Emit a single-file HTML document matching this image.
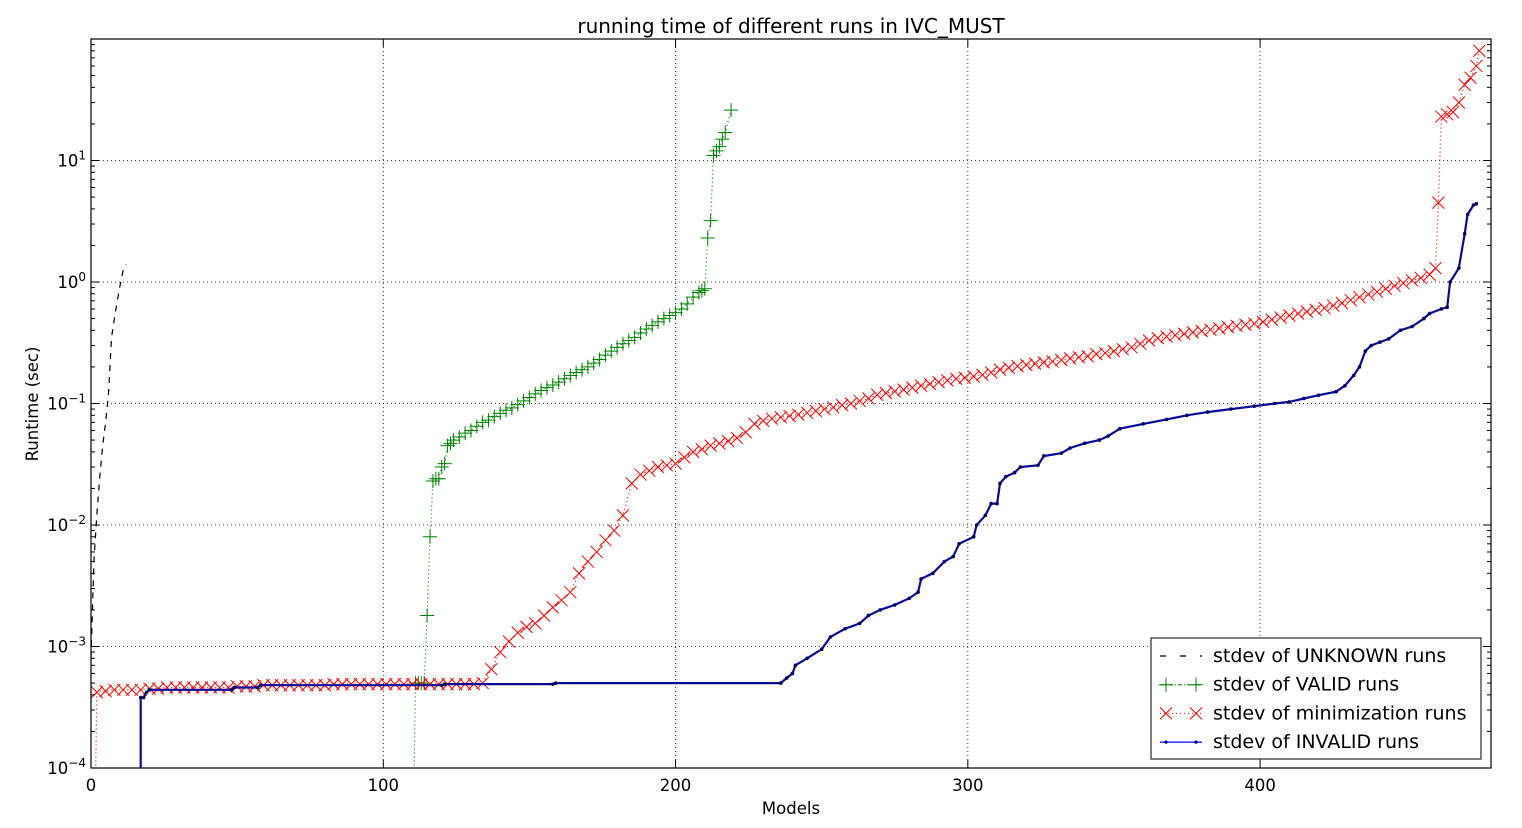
<!DOCTYPE html>
<html><head><meta charset="utf-8"><style>
html,body{margin:0;padding:0;background:#fff;width:1522px;height:828px;overflow:hidden;}
svg{display:block;font-family:"DejaVu Sans","Liberation Sans",sans-serif;}
</style></head><body>
<svg id="chart" width="1522" height="828" xmlns="http://www.w3.org/2000/svg" style="overflow:hidden">
<text x="791" y="33" text-anchor="middle" font-size="20">running time of different runs in IVC_MUST</text>
<text x="791" y="814" text-anchor="middle" font-size="16.5">Models</text>
<text transform="translate(38,404) rotate(-90)" text-anchor="middle" font-size="16.5">Runtime (sec)</text>
<g id="grid"></g>
<g id="series" clip-path="url(#clip)"></g>
<g id="axes"></g>
<defs><clipPath id="clip"><rect x="91" y="39" width="1400" height="729"/></clipPath></defs>
<g id="legend"></g>
</svg>
<script>
const xTicks=[0,100,200,300,400];
const yTickExps=[-4,-3,-2,-1,0,1];
const unknownX=[0,1,2,3,4,5,6,7,8,9,10,11,12];
const unknownY=[8e-4,5e-3,1.2e-2,2.5e-2,4.5e-2,7e-2,0.12,0.35,0.5,0.7,0.95,1.25,1.4];
const validX=[110,111,112,113,114,115,116,117,118,119,120,121,122,123,124,126,128,130,132,134,136,138,140,142,144,146,148,150,152,154,156,158,160,162,164,166,168,170,172,174,176,178,180,182,184,186,188,190,192,194,196,198,200,202,204,206,208,209,210,211,212,213,214,215,216,217,219];
const validY=[1e-5,5e-4,5e-4,5e-4,5e-4,1.8e-3,8e-3,0.023,0.024,0.024,0.03,0.032,0.045,0.047,0.05,0.053,0.057,0.06,0.065,0.07,0.073,0.078,0.083,0.088,0.092,0.098,0.105,0.112,0.12,0.128,0.135,0.142,0.15,0.16,0.17,0.18,0.19,0.2,0.215,0.23,0.25,0.27,0.29,0.31,0.33,0.35,0.38,0.41,0.44,0.47,0.5,0.53,0.56,0.6,0.66,0.75,0.82,0.85,0.88,2.3,3.2,11,12,13,15,17,26];
const minX=[1,2,5,8,11,14,17,20,23,26,29,32,35,38,41,44,47,50,53,56,59,62,65,68,71,74,77,80,83,86,89,92,95,98,101,104,107,110,113,116,119,122,125,128,131,134,137,140,143,146,149,152,155,158,161,164,167,170,173,176,179,182,185,188,191,194,197,200,203,206,209,212,215,218,221,224,227,230,233,236,239,242,245,248,251,254,257,260,263,266,269,272,275,278,281,284,287,290,293,296,299,302,305,308,311,314,317,320,323,326,329,332,335,338,341,344,347,350,353,356,359,362,365,368,371,374,377,380,383,386,389,392,395,398,401,404,407,410,413,416,419,422,425,428,431,434,437,440,443,446,449,452,455,458,460,461,462,464,466,468,470,472,474,475];
const minY=[1e-5,4.2e-4,4.3e-4,4.4e-4,4.4e-4,4.4e-4,4.4e-4,4.5e-4,4.5e-4,4.6e-4,4.6e-4,4.6e-4,4.6e-4,4.6e-4,4.6e-4,4.6e-4,4.6e-4,4.7e-4,4.7e-4,4.7e-4,4.8e-4,4.8e-4,4.8e-4,4.8e-4,4.8e-4,4.8e-4,4.8e-4,4.8e-4,4.9e-4,4.9e-4,4.9e-4,4.9e-4,4.9e-4,4.9e-4,4.9e-4,4.9e-4,4.9e-4,4.9e-4,4.9e-4,4.9e-4,4.9e-4,4.9e-4,4.9e-4,4.9e-4,4.9e-4,5e-4,6.5e-4,9e-4,1.1e-3,1.3e-3,1.45e-3,1.55e-3,1.8e-3,2.1e-3,2.4e-3,2.8e-3,4e-3,5e-3,6e-3,7.5e-3,9e-3,0.012,0.022,0.026,0.028,0.03,0.031,0.032,0.036,0.04,0.042,0.045,0.047,0.049,0.052,0.058,0.068,0.072,0.075,0.077,0.079,0.081,0.084,0.087,0.09,0.093,0.097,0.1,0.105,0.11,0.118,0.122,0.126,0.13,0.135,0.14,0.145,0.15,0.155,0.16,0.163,0.167,0.172,0.18,0.19,0.197,0.203,0.208,0.213,0.218,0.222,0.228,0.235,0.24,0.245,0.255,0.26,0.27,0.28,0.29,0.31,0.33,0.345,0.355,0.365,0.375,0.385,0.395,0.405,0.415,0.425,0.435,0.445,0.455,0.47,0.49,0.51,0.53,0.55,0.57,0.59,0.61,0.64,0.67,0.71,0.75,0.79,0.83,0.88,0.93,0.98,1.03,1.08,1.15,1.3,4.5,23,24,25,30,42,48,60,80];
const invalidX=[17,17,18,19,20,48,49,57,58,120,121,158,159,236,238,240,241,245,250,253,258,263,266,270,275,280,283,284,288,292,295,297,302,303,306,308,310,311,313,316,318,324,326,332,335,340,345,348,352,360,368,375,382,390,398,405,410,415,420,426,429,432,434,436,438,441,444,448,452,456,458,462,464,465,468,470,471,473,474];
const invalidY=[1e-5,3.8e-4,3.8e-4,4.2e-4,4.4e-4,4.4e-4,4.6e-4,4.6e-4,4.8e-4,4.8e-4,4.9e-4,4.9e-4,5e-4,5e-4,5.5e-4,6e-4,7e-4,8e-4,9.5e-4,1.2e-3,1.4e-3,1.55e-3,1.8e-3,2e-3,2.2e-3,2.5e-3,2.8e-3,3.6e-3,4e-3,5e-3,5.5e-3,7e-3,8e-3,1e-2,1.2e-2,1.5e-2,1.5e-2,0.022,0.025,0.027,0.03,0.031,0.037,0.039,0.043,0.047,0.05,0.054,0.062,0.068,0.074,0.08,0.085,0.09,0.095,0.1,0.103,0.11,0.117,0.125,0.14,0.17,0.2,0.27,0.3,0.32,0.34,0.4,0.43,0.5,0.55,0.6,0.62,1.0,1.3,2.5,3.6,4.3,4.4];

const L=91,R=1491,T=39,B=768,XMAX=479,YMIN=-4,YMAX=2;
const sx=v=>L+(v/XMAX)*(R-L);
const sy=v=>B-(Math.log10(v)-YMIN)/(YMAX-YMIN)*(B-T);
const NS="http://www.w3.org/2000/svg";
function mk(tag,attrs,parent){const e=document.createElementNS(NS,tag);for(const k in attrs)e.setAttribute(k,attrs[k]);parent.appendChild(e);return e;}
const grid=document.getElementById('grid'),axes=document.getElementById('axes'),ser=document.getElementById('series'),leg=document.getElementById('legend');

xTicks.forEach(t=>{
  const x=sx(t);
  const g=mk('line',{x1:x,x2:x,y1:T,y2:B,stroke:'#000','stroke-width':0.8,'stroke-dasharray':'1,3'},grid);
  
  
  mk('line',{x1:x,x2:x,y1:B,y2:B-8,stroke:'#000'},axes);
  mk('line',{x1:x,x2:x,y1:T,y2:T+8,stroke:'#000'},axes);
  const lb=mk('text',{x:x,y:B+23,'text-anchor':'middle','font-size':16.5},axes);
  lb.textContent=t;
  
  
});
yTickExps.forEach(e=>{
  const y=sy(Math.pow(10,e));
  if(e>-4){const g=mk('line',{x1:L,x2:R,y1:y,y2:y,stroke:'#000','stroke-width':0.8,'stroke-dasharray':'1,3'},grid);
  
  }
  mk('line',{x1:L,x2:L+8,y1:y,y2:y,stroke:'#000'},axes);
  mk('line',{x1:R,x2:R-8,y1:y,y2:y,stroke:'#000'},axes);
  const lb=mk('text',{x:L-5,y:y+6,'text-anchor':'end','font-size':16.5},axes);
  
  
  const b=mk('tspan',{},lb);b.textContent='10';
  const s=mk('tspan',{dy:-7,'font-size':12},lb);s.textContent=String(e).replace('-','\u2212');
  for(let m=2;m<=9;m++){const v=m*Math.pow(10,e);const yy=sy(v);if(yy<T)continue;
    mk('line',{x1:L,x2:L+4,y1:yy,y2:yy,stroke:'#000'},axes);
    mk('line',{x1:R,x2:R-4,y1:yy,y2:yy,stroke:'#000'},axes);}
});
const fr=mk('rect',{x:L,y:T,width:R-L,height:B-T,fill:'none',stroke:'#000','stroke-width':1.2},axes);



function pts(xs,ys){return xs.map((x,i)=>sx(x).toFixed(1)+','+sy(ys[i]).toFixed(1)).join(' ');}
function plus(g,x,y,s,c){mk('path',{d:`M${x-s},${y}H${x+s}M${x},${y-s}V${y+s}`,stroke:c,'stroke-width':1,fill:'none'},g);}
function cross(g,x,y,s,c){mk('path',{d:`M${x-s},${y-s}L${x+s},${y+s}M${x-s},${y+s}L${x+s},${y-s}`,stroke:c,'stroke-width':1,fill:'none'},g);}

const gu=mk('g',{},ser);


mk('polyline',{points:pts(unknownX,unknownY),fill:'none',stroke:'#000','stroke-width':1.2,'stroke-dasharray':'6,6'},gu);
const gv=mk('g',{},ser);


mk('polyline',{points:pts(validX,validY),fill:'none',stroke:'#008000','stroke-width':1.2,'stroke-dasharray':'1,3'},gv);
validX.forEach((x,i)=>plus(gv,sx(x),sy(validY[i]),7,'#008000'));
const gm=mk('g',{},ser);


mk('polyline',{points:pts(minX,minY),fill:'none',stroke:'#ff0000','stroke-width':1.2,'stroke-dasharray':'1,3'},gm);
minX.forEach((x,i)=>cross(gm,sx(x),sy(minY[i]),6,'#ff0000'));
const gi=mk('g',{},ser);


mk('polyline',{points:pts(invalidX,invalidY),fill:'none',stroke:'#0a0a9a','stroke-width':2.2},gi);
invalidX.forEach((x,i)=>{if(i>0)mk('circle',{cx:sx(x),cy:sy(invalidY[i]),r:1.8,fill:'#000060'},gi);});

const lb=mk('rect',{x:1151,y:638,width:330,height:121,fill:'#fff',stroke:'#000','stroke-width':1},leg);


const entries=['stdev of UNKNOWN runs','stdev of VALID runs','stdev of minimization runs','stdev of INVALID runs'];
entries.forEach((t,i)=>{
  const y=656+i*28.7;
  const g=mk('g',{},leg);
  
  
  if(i===0)mk('line',{x1:1160,x2:1202,y1:y,y2:y,stroke:'#000','stroke-width':1.2,'stroke-dasharray':'6,14'},g);
  if(i===1){mk('line',{x1:1160,x2:1202,y1:y,y2:y,stroke:'#008000','stroke-dasharray':'4,2,1,2'},g);plus(g,1166,y,7,'#008000');plus(g,1196,y,7,'#008000');}
  if(i===2){mk('line',{x1:1160,x2:1202,y1:y,y2:y,stroke:'#ff0000','stroke-dasharray':'1,3'},g);cross(g,1166,y,6,'#ff0000');cross(g,1196,y,6,'#ff0000');}
  if(i===3){mk('line',{x1:1160,x2:1202,y1:y,y2:y,stroke:'#0000ff','stroke-width':1.3},g);mk('circle',{cx:1166,cy:y,r:1.6,fill:'#000060'},g);mk('circle',{cx:1196,cy:y,r:1.6,fill:'#000060'},g);}
  const tx=mk('text',{x:1213,y:y+6,'font-size':19},g);tx.textContent=t;
});
</script>
</body></html>
